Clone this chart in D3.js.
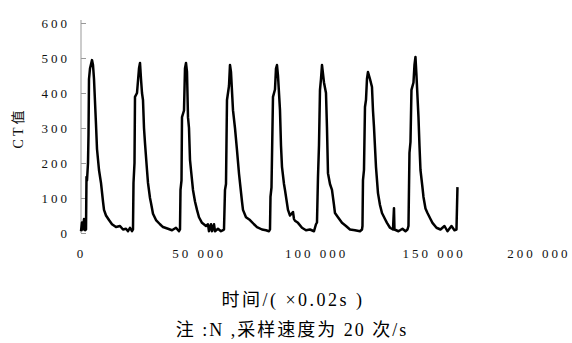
<!DOCTYPE html>
<html>
<head>
<meta charset="utf-8">
<script src="https://cdn.jsdelivr.net/npm/d3@7"></script>
<style>
  html, body { margin: 0; padding: 0; background: #fff; }
  svg { display: block; }
  .serif { font-family: 'Liberation Serif', 'Times New Roman', 'DejaVu Serif', 'Noto Sans CJK SC', serif; }
</style>
</head>
<body>
<svg width="572" height="343"></svg>
<script>
// sample index (x 0.02 s) and CT value
const sampleIdx = [
  0, 426, 851, 1277, 1702, 2128, 2340, 2553, 2979, 3191, 3404, 3830, 4681, 5106, 5532, 6383, 6808, 7659,
  8510, 9361, 9787, 10638, 11914, 13191, 14893, 16595, 17871, 19148, 19999, 20850, 21701,
  22126, 22339, 22765, 22977, 23828, 24679, 25105, 25530, 25956, 26381, 26807, 27232, 28083, 28509,
  29360, 29785, 30636, 31913, 33615, 34891, 37019, 38721, 40423, 41699,
  42125, 42338, 42763, 42976, 43827, 44252, 44678, 45103, 45529, 45954, 46380, 46805, 47656, 48507,
  49358, 50209, 51486, 53188, 54039, 54464, 55315, 55741, 56592, 57017, 58293, 59570, 60421,
  60847, 61272, 61698, 62123, 62974, 63400, 63825, 64676, 65527, 66378, 67229, 67655, 68506, 68931,
  70208, 71910, 73612, 74888, 77016, 78718, 79994,
  80420, 80632, 81058, 81696, 82547, 82973, 83398, 83824, 84675, 85100, 85526, 86377, 86802, 88079,
  88930, 90206, 90632, 91057, 92334, 94036, 95738, 97440, 99142, 99992,
  100418, 100844, 101269, 101695, 102120, 102546, 103397, 104248, 104673, 105099, 105950, 106801,
  107652, 108077, 109354, 111056, 112758, 114460, 116587, 118715, 119566,
  119778, 119991, 120417, 120842, 121268, 121693, 122119, 122970, 123821, 124246, 124672, 125523,
  126374, 127225, 128076, 129352, 130203, 131480, 132756, 133182, 133394, 135096, 136798, 138074, 138925,
  139351, 139776, 140202, 140627, 141478, 141904, 142329, 142755, 143606, 144031, 144457, 145308,
  145733, 146584, 147435, 148712, 149563, 151265, 152967, 154669, 155945, 157647, 158924, 159775, 160201
]
const ctValues = [
  5, 30, 10, 40, 8, 10, 160, 150, 200, 280, 440, 470, 494, 480, 440, 310, 240, 180,
  143, 90, 66, 50, 37, 25, 17, 20, 10, 12, 5, 15, 5,
  10, 143, 200, 389, 400, 470, 486, 440, 400, 380, 300, 257, 180, 143,
  100, 86, 55, 37, 25, 17, 12, 8, 15, 5,
  10, 123, 150, 331, 350, 470, 486, 460, 331, 300, 209, 180, 123, 90,
  66, 45, 29, 20, 25, 5, 25, 5, 25, 5, 12, 5, 8,
  10, 123, 140, 380, 420, 480, 460, 351, 300, 237, 170, 143, 90, 66,
  45, 37, 25, 17, 10, 8, 5,
  10, 103, 130, 389, 410, 470, 480, 450, 351, 250, 189, 140, 123, 66,
  50, 60, 40, 35, 29, 15, 8, 10, 5, 25,
  30, 160, 250, 409, 440, 480, 430, 400, 300, 171, 140, 123,
  80, 57, 45, 29, 20, 10, 8, 5, 10,
  20, 151, 180, 360, 380, 440, 460, 440, 417, 350, 303, 189,
  114, 80, 57, 40, 29, 15, 10, 71, 10, 5, 12, 5, 10,
  20, 229, 260, 409, 430, 480, 503, 450, 331, 250, 180, 130,
  103, 70, 57, 40, 29, 15, 10, 20, 5, 20, 8, 10, 131
]
const xTicks = [0, 50000, 100000, 150000, 200000]
const yTicks = [0, 100, 200, 300, 400, 500, 600]

const xTitle = '时间/(  ×0.02s )'
const note = '注 :N ,采样速度为 20 次/s'
const yTitle = 'CT值'

const data = sampleIdx.map((x, i) => ({ x, y: ctValues[i] }))

const svg = d3.select('svg')

const x = d3.scaleLinear().domain([0, 200000]).range([81, 551])
const y = d3.scaleLinear().domain([0, 600]).range([233, 23])

const fmt = d3.formatLocale({ decimal: '.', thousands: ' ', grouping: [3], currency: ['', ''] }).format(',d')

// y axis, ticks point into the plot
const gy = svg.append('g')
  .attr('transform', `translate(${x(0)},0)`)
  .call(d3.axisLeft(y).tickValues(yTicks).tickSizeInner(-5).tickSizeOuter(0).tickPadding(11))
gy.attr('font-family', null).attr('font-size', null)
gy.select('.domain').attr('stroke', '#999').attr('d', `M0,${y(0)}V${y(600) - 3}`)
gy.selectAll('.tick line').attr('stroke', '#999')
gy.selectAll('text')
  .attr('class', 'serif')
  .style('font-size', '13px')
  .style('letter-spacing', '3px')
  .attr('fill', '#111')

// x axis: labels only
const gx = svg.append('g')
  .attr('transform', `translate(0,${y(0)})`)
  .call(d3.axisBottom(x).tickValues(xTicks).tickFormat(fmt).tickSize(0).tickPadding(16))
gx.attr('font-family', null).attr('font-size', null)
gx.select('.domain').remove()
gx.selectAll('text')
  .attr('class', 'serif')
  .style('font-size', '13px')
  .style('letter-spacing', '3px')
  .attr('fill', '#111')
// last label sits against the right edge in the original
gx.selectAll('.tick').filter((d) => d === 200000).select('text')
  .attr('text-anchor', 'end')
  .attr('x', 572 - 2 - x(200000))

svg.append('path')
  .datum(data)
  .attr('fill', 'none')
  .attr('stroke', '#000')
  .attr('stroke-width', 2.5)
  .attr('stroke-linejoin', 'round')
  .attr('d', d3.line().x((d) => x(d.x)).y((d) => y(d.y)))

svg.append('text')
  .attr('class', 'serif')
  .attr('transform', `translate(23,${(y(200) + y(400)) / 2}) rotate(-90)`)
  .attr('text-anchor', 'middle')
  .style('font-size', '14px')
  .style('letter-spacing', '3px')
  .attr('fill', '#111')
  .text(yTitle)

svg.append('text')
  .attr('class', 'serif')
  .attr('x', 293)
  .attr('y', 306)
  .attr('text-anchor', 'middle')
  .style('font-size', '18px')
  .style('letter-spacing', '2.5px')
  .text(xTitle)

svg.append('text')
  .attr('class', 'serif')
  .attr('x', 292)
  .attr('y', 336)
  .attr('text-anchor', 'middle')
  .style('font-size', '18px')
  .style('letter-spacing', '2px')
  .text(note)
</script>
</body>
</html>
